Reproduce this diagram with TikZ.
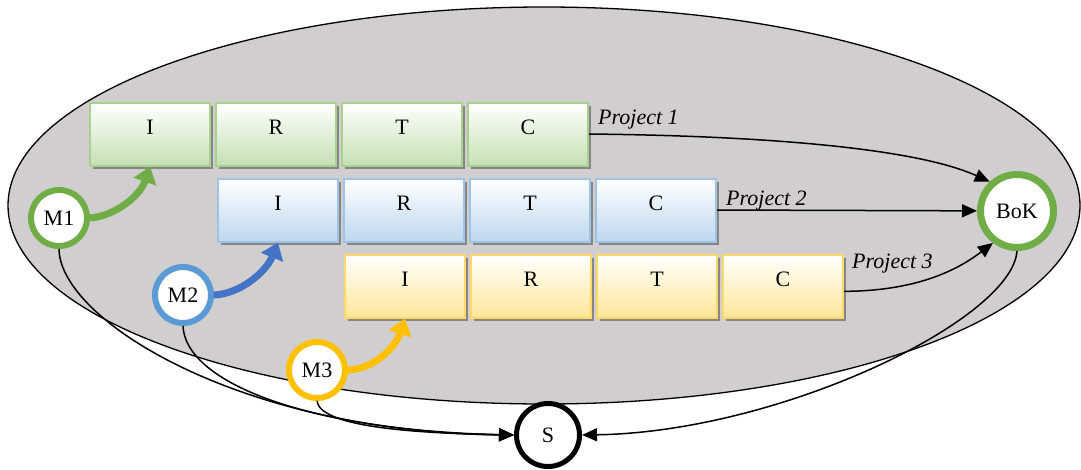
\documentclass[tikz,border=0pt]{standalone}
\usepackage{fontspec}
\setmainfont{Liberation Serif}
\usetikzlibrary{arrows.meta,shadows,calc}

\definecolor{ovalgray}{RGB}{208,206,206}
\definecolor{mgreen}{RGB}{112,173,71}
\definecolor{mblue}{RGB}{91,155,213}
\definecolor{mbluedark}{RGB}{68,114,196}
\definecolor{myellow}{RGB}{255,192,0}
\definecolor{gbord}{RGB}{169,209,142}
\definecolor{gfill}{RGB}{197,224,180}
\definecolor{bbord}{RGB}{157,195,230}
\definecolor{bfill}{RGB}{189,215,238}
\definecolor{ybord}{RGB}{255,217,102}
\definecolor{yfill}{RGB}{255,230,153}

\tikzset{
  phase/.style={rectangle, minimum width=120pt, minimum height=63pt,
    inner sep=0pt, line width=2pt, top color=white,
    text height=14pt, text depth=13pt,
    font=\fontsize{22}{26}\selectfont,
    drop shadow={shadow xshift=3pt, shadow yshift=-3pt, fill=black, opacity=0.35}},
  gphase/.style={phase, draw=gbord, bottom color=gfill},
  bphase/.style={phase, draw=bbord, bottom color=bfill},
  yphase/.style={phase, draw=ybord, bottom color=yfill},
  member/.style={circle, fill=white, line width=6pt, minimum size=56pt,
    inner sep=0pt, font=\fontsize{22}{26}\selectfont},
  conn/.style={line width=1.5pt, -{Triangle[length=15pt,width=13pt]}},
  feed/.style={line width=7pt, -{Triangle[length=16pt,width=23pt]}},
  plabel/.style={anchor=base west, inner sep=0pt, font=\fontsize{22}{26}\selectfont\itshape},
}

\begin{document}
\begin{tikzpicture}[x=1pt, y=-1pt]
\useasboundingbox (0,0) rectangle (1081,469);

% organisation boundary
\draw[fill=ovalgray, line width=1.3pt] (544,205.5) ellipse [x radius=536pt, y radius=198.5pt];

% project phases
\node[gphase] (p1i) at (150,134) {I};
\node[gphase] (p1r) at (276,134) {R};
\node[gphase] (p1t) at (402,134) {T};
\node[gphase] (p1c) at (528,134) {C};

\node[bphase] (p2i) at (278,210) {I};
\node[bphase] (p2r) at (404,210) {R};
\node[bphase] (p2t) at (530,210) {T};
\node[bphase] (p2c) at (656,210) {C};

\node[yphase] (p3i) at (405,286) {I};
\node[yphase] (p3r) at (531,286) {R};
\node[yphase] (p3t) at (657,286) {T};
\node[yphase] (p3c) at (783,286) {C};

% members, body of knowledge and S
\node[member, draw=mgreen] (m1) at (59,218) {M1};
\node[member, draw=mblue] (m2) at (183,295) {M2};
\node[member, draw=myellow] (m3) at (317,370) {M3};
\node[member, draw=mgreen, line width=7pt, minimum size=73pt] (bok) at (1017,211) {BoK};
\node[member, draw=black, line width=5pt, minimum size=63pt] (s) at (548,435) {S};

% projects feeding the body of knowledge
\draw[conn] (p1c.east) .. controls (780,136) and (920,150) .. (bok.133);
\draw[conn] (p2c.east) -- (bok);
\draw[conn] (p3c.-5) .. controls (920,291) and (960,268) .. (bok.233);

\node[plabel] (l1) at (598,124) {Project 1};
\node[plabel] (l2) at (726,205) {Project 2};
\node[plabel] (l3) at (852,268) {Project 3};

% members joining projects
\draw[feed, mgreen] (m1.east) .. controls (115,216) and (140,196) .. (p1i.south);
\draw[feed, mbluedark] (m2.east) .. controls (240,294) and (266,272) .. (p2i.south);
\draw[feed, myellow] (m3.east) .. controls (375,369) and (396,346) .. (p3i.south);

% links to S
\draw[conn] (m1.south) .. controls (60,320) and (240,432) .. (s.west);
\draw[conn] (m2.south) .. controls (185,380) and (300,430) .. (s.west);
\draw[conn] (m3.south) .. controls (320,425) and (400,433) .. (s.west);
\draw[conn] (bok.south) .. controls (1012,320) and (780,432) .. (s.east);
\end{tikzpicture}
\end{document}
